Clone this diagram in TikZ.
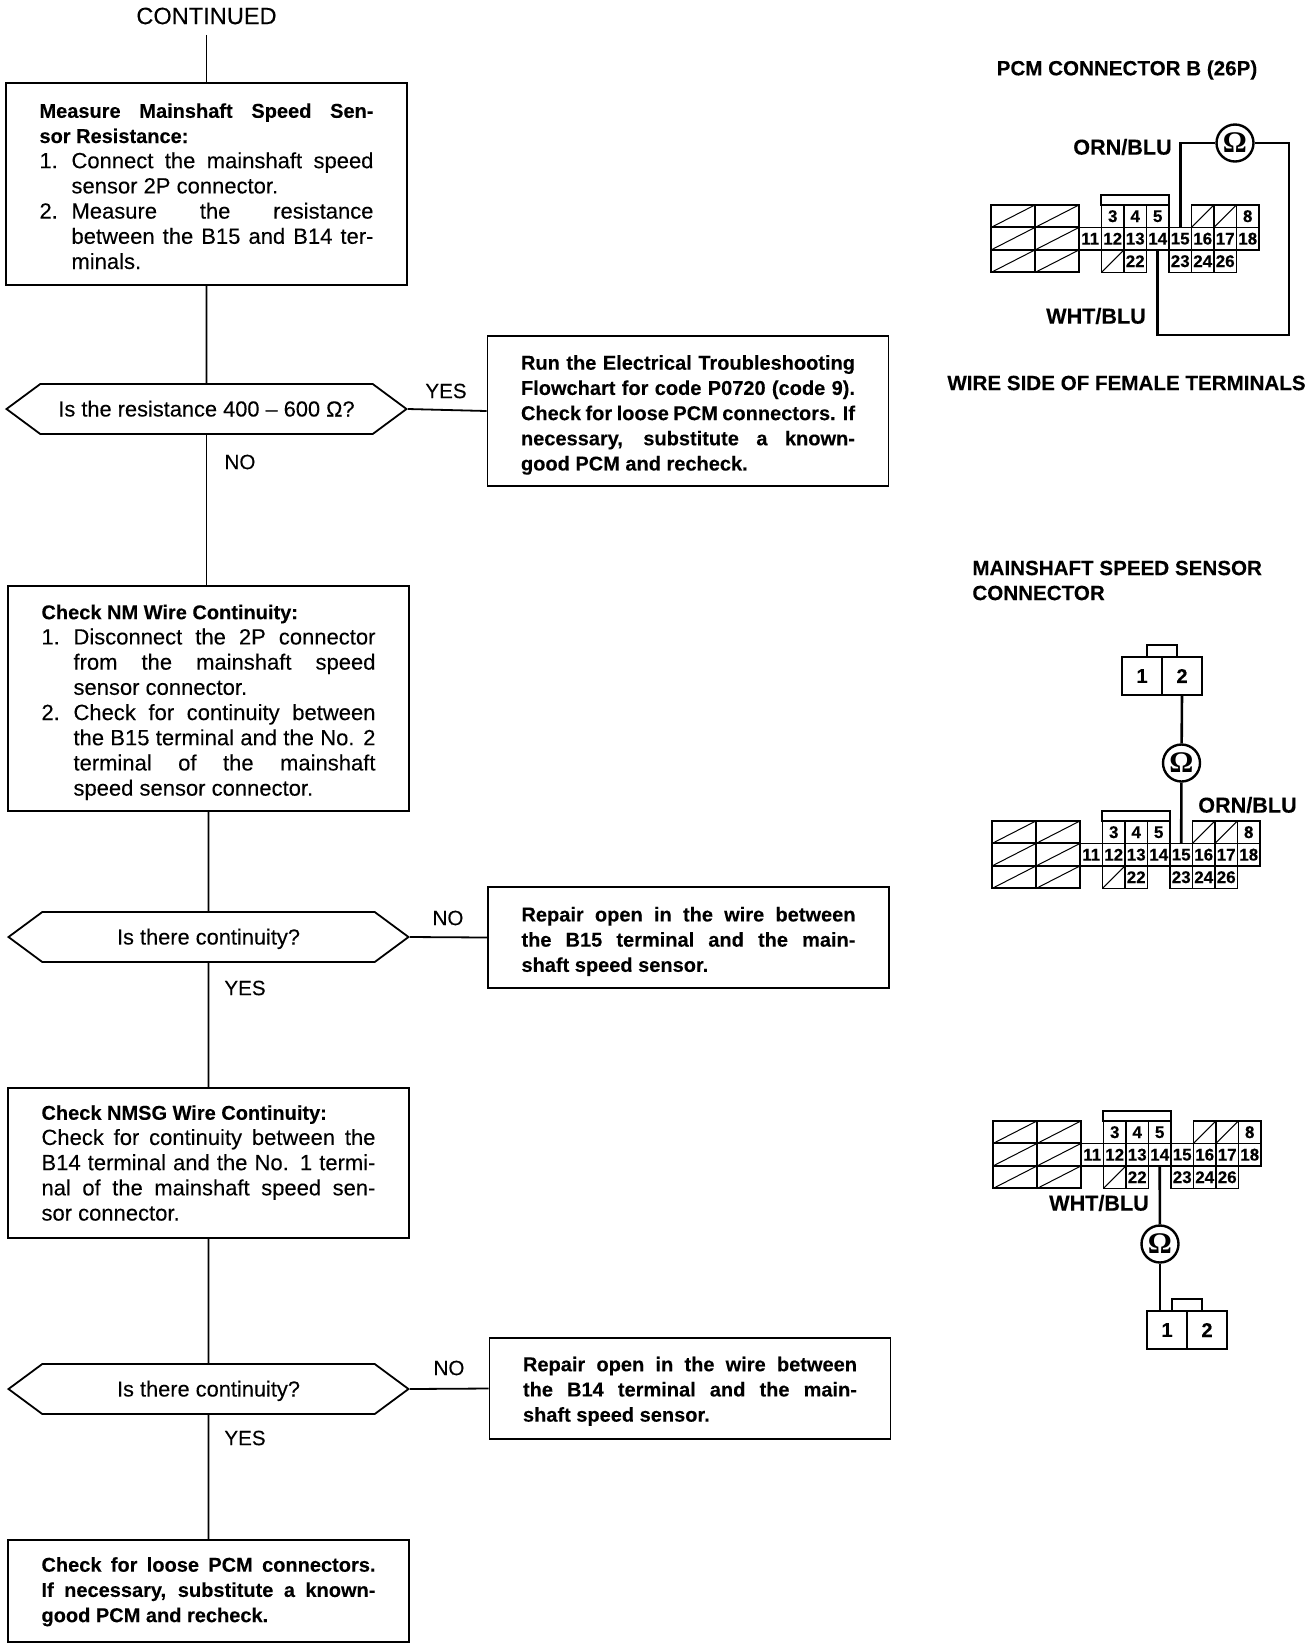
\documentclass[tikz,border=0pt]{standalone}
\usepackage{fontspec}
\setmainfont{Liberation Sans}[FakeBold=0.15]
\newfontfamily\ohmfont{Liberation Serif}
\usetikzlibrary{positioning, shapes.symbols}

\tikzset{
    wire/.style={line width=0.9pt},
    probe/.style={line width=1.3pt},
    drop/.style={execute at begin node={\rule{0pt}{#1}}},
    flowbox/.style={draw, line width=0.9pt, minimum width=200.5pt, text width=167pt, inner sep=0pt, align=justify,
        font=\fontsize{11}{12.6}\selectfont},
    boldbox/.style={flowbox, font=\fontsize{10}{12.6}\selectfont\bfseries},
    query/.style={draw, line width=0.9pt, shape=signal, signal to=west and east, signal pointer angle=73,
        minimum width=200pt, minimum height=25pt, inner sep=0pt, text height=9pt, text depth=1.5pt,
        font=\fontsize{10.9}{12.6}\selectfont},
    answer/.style={font=\fontsize{10.3}{12}\selectfont, inner sep=0pt},
    caption/.style={font=\fontsize{10.3}{12.5}\selectfont\bfseries, inner sep=0pt, align=left},
    lead/.style={font=\fontsize{10.8}{12.5}\selectfont\bfseries, inner sep=0pt},
    pincell/.style={draw, line width=0.8pt, minimum width=11.25pt, minimum height=11.25pt, inner sep=0pt, outer sep=0pt,
        font=\fontsize{8.5}{9}\selectfont\bfseries},
    hatchcell/.style={pincell, path picture={\draw[line width=0.5pt] (path picture bounding box.south west) -- (path picture bounding box.north east);}},
    bigcell/.style={hatchcell, minimum width=22pt, line width=1pt},
    minicell/.style={pincell, minimum width=20pt, minimum height=19pt, font=\fontsize{10}{12}\selectfont\bfseries},
    ohm/.style={draw, circle, line width=1.2pt, minimum size=18.5pt, inner sep=0pt, fill=white,
        font=\fontsize{15}{15}\ohmfont\bfseries}
}

% one numbered step, hanging under its number
\newcommand{\stepitem}[2]{\par\hangindent=16pt\hangafter=1\noindent\makebox[16pt][l]{#1}#2\par}

% 26P connector: name prefix, left edge, top of the upper row
\newcommand{\pcmconn}[3]{
    \begin{scope}[shift={(#2,#3)}]
        \foreach \r in {0,1,2} \foreach \c in {0,1}
            \node[bigcell] at ({22+\c*44},{11.2+\r*22.5}) {};
        \draw[line width=0.8pt] (110,0) rectangle (178,-10);
        \foreach \n [count=\i from 0] in {11,12,13,14,15,16,17,18}
            \node[pincell] (#1\n) at ({99.2+\i*22.5},33.7) {\n};
        \foreach \n [count=\i from 1] in {3,4,5}
            \node[pincell] (#1\n) at ({99.2+\i*22.5},11.2) {\n};
        \node[hatchcell] at ({99.2+5*22.5},11.2) {};
        \node[hatchcell] at ({99.2+6*22.5},11.2) {};
        \node[pincell] (#18) at ({99.2+7*22.5},11.2) {8};
        \node[hatchcell] at ({99.2+22.5},56.2) {};
        \node[pincell] (#122) at ({99.2+2*22.5},56.2) {22};
        \foreach \n [count=\i from 4] in {23,24,26}
            \node[pincell] (#1\n) at ({99.2+\i*22.5},56.2) {\n};
    \end{scope}
}

% 2P sensor connector: name prefix, left edge, top of the cells
\newcommand{\miniconn}[3]{
    \begin{scope}[shift={(#2,#3)}]
        \draw[line width=0.8pt] (25,0) rectangle (55,-12);
        \node[minicell] (#11) at (20,19) {1};
        \node[minicell] (#12) at (60,19) {2};
    \end{scope}
}

\begin{document}
\begin{tikzpicture}[x=0.5pt, y=-0.5pt]
    \useasboundingbox (0,0) rectangle (1312,1646);

    \node[font=\fontsize{11.8}{14}\selectfont, inner sep=5pt] (cont) at (206.5,16) {CONTINUED};

    \node[flowbox, minimum height=101pt, drop=9.5pt] (measure) at (206.5,184) {%
        {\bfseries\fontsize{10}{12.6}\selectfont Measure Mainshaft Speed Sen-\linebreak sor Resistance:}
        \stepitem{1.}{Connect the mainshaft speed\linebreak sensor 2P connector.}
        \stepitem{2.}{Measure the resistance\linebreak between the B15 and B14 ter-\linebreak minals.}};
    \node[query] (ohmcheck) at (206.5,409) {Is the resistance 400 -- 600 Ω?};
    \node[boldbox, minimum height=75pt, drop=11.2pt] (runflow) at (688,411) {%
        Run the Electrical Troubleshooting\linebreak Flowchart for code P0720 (code 9).\linebreak
        Check for loose PCM connectors. If\linebreak necessary, substitute a known-\linebreak good PCM and recheck.};

    \node[flowbox, minimum height=112.5pt, drop=11.2pt] (nmcheck) at (208.5,698.5) {%
        {\bfseries\fontsize{10}{12.6}\selectfont Check NM Wire Continuity:}
        \stepitem{1.}{Disconnect the 2P connector\linebreak from the mainshaft speed\linebreak sensor connector.}
        \stepitem{2.}{Check for continuity between\linebreak the B15 terminal and the No. 2\linebreak terminal of the mainshaft\linebreak speed sensor connector.}};
    \node[query] (contA) at (208.5,937) {Is there continuity?};
    \node[boldbox, minimum height=50.5pt, drop=11.2pt] (repairA) at (688.5,937.5) {%
        Repair open in the wire between\linebreak the B15 terminal and the main-\linebreak shaft speed sensor.};

    \node[flowbox, minimum height=75pt] (nmsgcheck) at (208.5,1163) {%
        {\bfseries\fontsize{10}{12.6}\selectfont Check NMSG Wire Continuity:}
        \par\noindent Check for continuity between the\linebreak B14 terminal and the No. 1 termi-\linebreak nal of the mainshaft speed sen-\linebreak sor connector.};
    \node[query] (contB) at (208.5,1389) {Is there continuity?};
    \node[boldbox, minimum height=50.5pt, drop=10pt] (repairB) at (690,1388.5) {%
        Repair open in the wire between\linebreak the B14 terminal and the main-\linebreak shaft speed sensor.};
    \node[boldbox, minimum height=51pt, drop=8pt] (recheck) at (208.5,1591) {%
        Check for loose PCM connectors.\linebreak If necessary, substitute a known-\linebreak good PCM and recheck.};

    \draw[wire] (cont) -- (measure);
    \draw[wire] (measure) -- (ohmcheck);
    \draw[wire] (ohmcheck.east) -- (runflow.west);
    \draw[wire] (ohmcheck.south) -- (ohmcheck.south |- nmcheck.north);
    \draw[wire] (nmcheck) -- (contA);
    \draw[wire] (contA.east) -- (repairA.west);
    \draw[wire] (contA) -- (nmsgcheck);
    \draw[wire] (nmsgcheck) -- (contB);
    \draw[wire] (contB.east) -- (repairB.west);
    \draw[wire] (contB) -- (recheck);

    \node[answer] (yesA) at (446,391) {YES};
    \node[answer] (noA) at (240,462) {NO};
    \node[answer] (noB) at (448,918) {NO};
    \node[answer] (yesB) at (245,988) {YES};
    \node[answer] (noC) at (449,1368) {NO};
    \node[answer] (yesC) at (245,1438) {YES};

    % first test: across the PCM connector
    \node[caption] (titleA) at (1127,70) {PCM CONNECTOR B (26P)};
    \pcmconn{a}{991}{205}
    \node[ohm] (ohmA) at (1235,143) {Ω};
    \coordinate (wireA) at (1289,335);
    \node[lead] (orgA) at (1122.5,147) {ORN/BLU};
    \node[lead] (whtA) at (1096,316) {WHT/BLU};
    \draw[probe] (a15.north) |- (ohmA);
    \draw[probe] (ohmA) -| (wireA) -| (a14.south);
    \node[caption] (sideA) at (1126.5,383) {WIRE SIDE OF FEMALE TERMINALS};

    % second test: ORN/BLU to the sensor
    \node[caption, anchor=west] (titleB) at (972,580.5) {MAINSHAFT SPEED SENSOR\\CONNECTOR};
    \miniconn{m}{1122}{657}
    \pcmconn{b}{992}{821}
    \node[ohm] (ohmB) at (1181.5,763) {Ω};
    \node[lead] (orgB) at (1247.5,805) {ORN/BLU};
    \draw[probe] (m2.south) -- (ohmB);
    \draw[probe] (ohmB) -- (b15.north);

    % third test: WHT/BLU to the sensor
    \pcmconn{c}{993}{1121}
    \node[ohm] (ohmC) at (1160,1244) {Ω};
    \miniconn{n}{1147}{1311}
    \node[lead] (whtC) at (1099,1203) {WHT/BLU};
    \draw[probe] (c14.south) -- (ohmC);
    \draw[probe] (ohmC) -- (ohmC |- n1.north);
\end{tikzpicture}
\end{document}
